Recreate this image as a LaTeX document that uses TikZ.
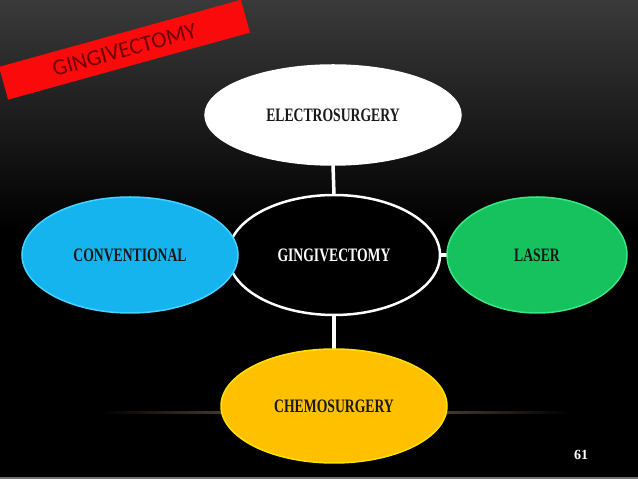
\documentclass[tikz,border=0pt]{standalone}
\usepackage{fontspec}
\usepackage{tikz}
\usetikzlibrary{shapes.geometric, positioning}
\newfontfamily\lblfont[FakeStretch=0.72]{Liberation Serif}
\newfontfamily\numfont{Liberation Serif}
\newfontfamily\bannerfont{Carlito}
\definecolor{convblue}{RGB}{22,180,238}
\definecolor{convrim}{RGB}{70,210,255}
\definecolor{lasergreen}{RGB}{22,194,94}
\definecolor{laserrim}{RGB}{60,230,130}
\definecolor{chemoyellow}{RGB}{255,192,0}
\definecolor{chemorim}{RGB}{255,225,0}
\definecolor{bannerred}{RGB}{250,10,10}
\definecolor{bannertext}{RGB}{110,0,0}
\definecolor{glowtan}{RGB}{130,110,80}
\definecolor{topgray}{RGB}{58,58,58}
\pgfdeclarelayer{bg}
\pgfdeclarelayer{lines}
\pgfsetlayers{bg,lines,main}

\begin{document}
\begin{tikzpicture}[x=1pt, y=1pt,
      oval/.style={ellipse, inner sep=0pt, outer sep=0pt, line width=1.5pt,
        font=\lblfont\bfseries\fontsize{19}{19}\selectfont, text=black!90},
      hub/.style={oval, draw=white, line width=2.5pt, fill=black, text=white,
        minimum width=212, minimum height=120},
      link/.style={draw=white, line width=3.5pt}]

      \useasboundingbox (0,0) rectangle (638,479);

      % Background
      \begin{pgfonlayer}{bg}
        \fill[black] (0,0) rectangle (638,479);
        \shade[top color=topgray, bottom color=black] (0,250) rectangle (638,479);
        \shade[left color=black, right color=black, middle color=glowtan] (100,65) rectangle (570,67);
        \fill[black!55] (0,0) rectangle (638,1.5);
      \end{pgfonlayer}

      % Title banner
      \node[fill=bannerred, rotate=15.5, minimum width=251, minimum height=34,
        inner sep=0pt, text=bannertext, font=\bannerfont\fontsize{23}{23}\selectfont]
        (banner) at (124.5,429.25) {GINGIVECTOMY};

      % Ellipses
      \node[hub] (hub) at (334,224) {GINGIVECTOMY};
      \node[oval, fill=white, draw=white, minimum width=256, minimum height=100] (electro) at (333,364) {ELECTROSURGERY};
      \node[oval, fill=convblue, draw=convrim, minimum width=216, minimum height=116] (conv) at (130,224) {CONVENTIONAL};
      \node[oval, fill=lasergreen, draw=laserrim, minimum width=180, minimum height=116] (laser) at (537,224) {LASER};
      \node[oval, fill=chemoyellow, draw=chemorim, minimum width=226, minimum height=114] (chemo) at (334,73) {CHEMOSURGERY};

      % Connectors
      \begin{pgfonlayer}{lines}
        \draw[link] (hub.north) -- (electro.south);
        \draw[link] (hub.south) -- (chemo.north);
        \draw[link] (hub.west) -- (conv.east);
        \draw[link] (hub.east) -- (laser.west);
      \end{pgfonlayer}

      % Slide number
      \node[text=white, font=\numfont\bfseries\fontsize{14}{14}\selectfont] (pageno) at (581,24) {61};
\end{tikzpicture}
\end{document}
